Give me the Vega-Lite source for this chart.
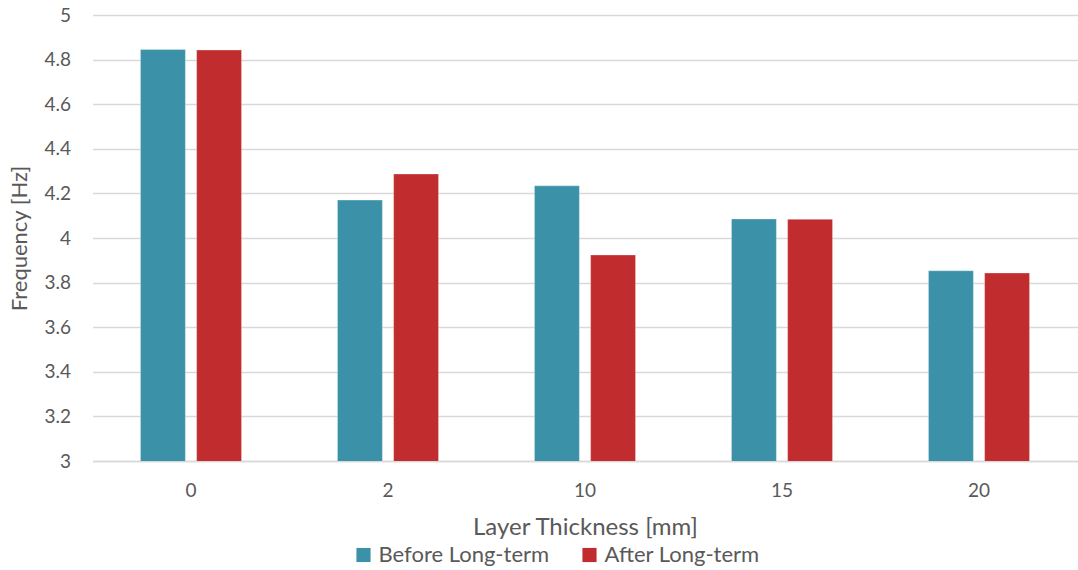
{
  "$schema": "https://vega.github.io/schema/vega-lite/v6.json",
  "autosize": {"type": "none"},
  "padding": {"left": 92.5, "top": 15, "right": 0.5, "bottom": 109},
  "width": 985,
  "height": 446,
  "background": "white",
  "config": {
    "font": "Lato",
    "view": {"stroke": null},
    "axis": {"labelColor": "#595959", "titleColor": "#595959", "labelFont": "Lato", "titleFont": "Lato", "titleFontWeight": "normal"},
    "legend": {"labelColor": "#595959", "labelFont": "Lato"}
  },
  "data": {
    "values": [
      {"thickness": "0", "series": "Before Long-term", "frequency": 4.845},
      {"thickness": "0", "series": "After Long-term", "frequency": 4.843},
      {"thickness": "2", "series": "Before Long-term", "frequency": 4.17},
      {"thickness": "2", "series": "After Long-term", "frequency": 4.287},
      {"thickness": "10", "series": "Before Long-term", "frequency": 4.234},
      {"thickness": "10", "series": "After Long-term", "frequency": 3.924},
      {"thickness": "15", "series": "Before Long-term", "frequency": 4.085},
      {"thickness": "15", "series": "After Long-term", "frequency": 4.084},
      {"thickness": "20", "series": "Before Long-term", "frequency": 3.853},
      {"thickness": "20", "series": "After Long-term", "frequency": 3.843}
    ]
  },
  "mark": {"type": "bar", "clip": true, "stroke": "white", "strokeWidth": 0.5, "strokeOpacity": 0.6},
  "encoding": {
    "x": {
      "field": "thickness",
      "type": "nominal",
      "sort": ["0", "2", "10", "15", "20"],
      "scale": {"paddingInner": 0.487, "paddingOuter": 0.2435},
      "axis": {
        "title": "Layer Thickness [mm]",
        "titleFontSize": 24,
        "titlePadding": 15,
        "labelFontSize": 19,
        "labelAngle": 0,
        "labelPadding": 20,
        "ticks": false,
        "domainColor": "#d9d9d9",
        "domainWidth": 1.5
      }
    },
    "xOffset": {
      "field": "series",
      "type": "nominal",
      "sort": ["Before Long-term", "After Long-term"],
      "scale": {"paddingInner": 0.2, "paddingOuter": 0}
    },
    "y": {
      "field": "frequency",
      "type": "quantitative",
      "scale": {"domain": [3, 5], "zero": false, "nice": false},
      "axis": {
        "title": "Frequency [Hz]",
        "titleFontSize": 22,
        "titlePadding": 12,
        "labelFontSize": 19,
        "labelPadding": 22,
        "ticks": false,
        "domain": false,
        "format": "~g",
        "values": [3, 3.2, 3.4, 3.6, 3.8, 4, 4.2, 4.4, 4.6, 4.8, 5],
        "gridColor": "#d9d9d9",
        "gridWidth": 1.5
      }
    },
    "color": {
      "field": "series",
      "type": "nominal",
      "sort": ["Before Long-term", "After Long-term"],
      "scale": {"domain": ["Before Long-term", "After Long-term"], "range": ["#3a91a8", "#c12d2f"]},
      "legend": {
        "title": null,
        "orient": "none",
        "direction": "horizontal",
        "legendX": 260,
        "legendY": 529,
        "symbolType": "square",
        "symbolSize": 200,
        "symbolStrokeWidth": 0,
        "labelFontSize": 22,
        "labelLimit": 400,
        "columnPadding": 29,
        "labelOffset": 4
      }
    }
  }
}
